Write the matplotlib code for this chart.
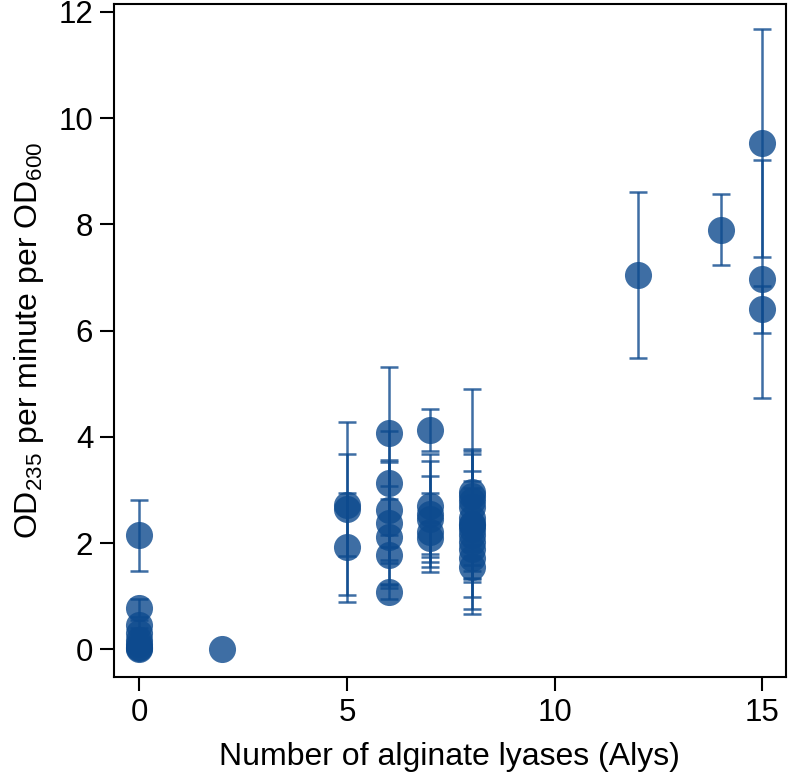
import numpy as np
import matplotlib
matplotlib.use("Agg")
import matplotlib.pyplot as plt

plt.rcParams["font.family"] = ["Liberation Sans", "DejaVu Sans"]
plt.rcParams["mathtext.fontset"] = "custom"
plt.rcParams["mathtext.rm"] = "Liberation Sans"
plt.rcParams["mathtext.default"] = "regular"

# number of alginate lyases per strain
n_alys = [0, 0, 0, 0, 0, 0, 0, 0, 0,
          2,
          5, 5, 5,
          6, 6, 6, 6, 6, 6, 6,
          7, 7, 7, 7, 7, 7,
          8, 8, 8, 8, 8, 8, 8, 8, 8, 8, 8, 8, 8,
          12, 14, 15, 15, 15]

# OD235 per minute per OD600 (mean)
activity = [2.15, 0.78, 0.45, 0.30, 0.18, 0.10, 0.05, 0.02, 0.0,
            0.0,
            2.72, 2.65, 1.92,
            4.07, 3.13, 2.62, 2.38, 2.12, 1.78, 1.08,
            4.13, 2.70, 2.55, 2.45, 2.20, 2.10,
            2.97, 2.88, 2.79, 2.68, 2.47, 2.36, 2.34, 2.27, 2.15, 2.02, 1.88, 1.72, 1.55,
            7.05, 7.90, 9.53, 6.98, 6.40]

# standard deviation (0 = no bar drawn)
activity_sd = [0.67, 0.17, 0.10, 0.10, 0.05, 0.05, 0.03, 0.0, 0.0,
               0.0,
               0.96, 1.63, 1.03,
               1.24, 0.98, 0.94, 1.15, 0.96, 0.15, 0.13,
               0.39, 0.97, 1.00, 0.81, 0.75, 0.30,
               0.20, 0.15, 2.12, 0.20, 1.20, 1.37, 1.02, 1.51, 0.30, 0.30, 0.30, 0.25, 0.20,
               1.57, 0.67, 2.15, 2.24, 0.45]

x_ticks = [0, 5, 10, 15]
y_ticks = [0, 2, 4, 6, 8, 10, 12]

base = "#0d4a8e"

x = np.array(n_alys, dtype=float)
y = np.array(activity)
sd = np.array(activity_sd)
has_bar = sd > 0

fig = plt.figure(figsize=(7.88, 7.75), dpi=100)
ax = fig.add_axes([0.1447, 0.1265, 0.8523, 0.8683])

ax.errorbar(x[has_bar], y[has_bar], yerr=sd[has_bar], fmt="none",
            ecolor=base, elinewidth=1.8, capsize=6.5, capthick=1.8,
            alpha=0.8, zorder=2)
ax.plot(x, y, "o", color=base, markersize=19.5,
        markeredgewidth=0, alpha=0.8, zorder=3)

ax.set_xlim(-0.61, 15.56)
ax.set_ylim(-0.52, 12.15)
ax.set_xticks(x_ticks)
ax.set_yticks(y_ticks)
ax.tick_params(axis="both", length=10, width=1.5, labelsize=22.5, pad=5)
for s in ax.spines.values():
    s.set_linewidth(1.5)

ax.set_xlabel("Number of alginate lyases (Alys)", fontsize=23, labelpad=10)
ax.set_ylabel(r"OD$_{235}$ per minute per OD$_{600}$", fontsize=23, labelpad=9)

plt.savefig("out.png", dpi=100)
